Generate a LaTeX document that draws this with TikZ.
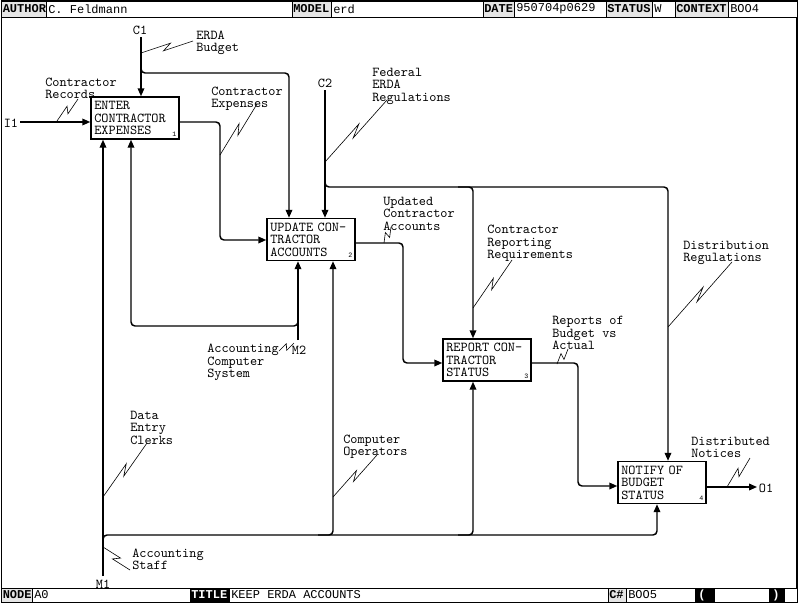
\documentclass[tikz,border=0pt]{standalone}
\usepackage{fontspec}
\setmainfont{Liberation Mono}
\usetikzlibrary{arrows.meta,calc}
\newcommand{\dfont}{\ttfamily\fontsize{10.2}{9.3}\selectfont}
\newcommand{\hfont}{\fontsize{9}{8.4}\selectfont}
\newcommand{\nfont}{\fontsize{5}{5}\selectfont}
\newcommand{\sqg}[2]{\draw[squig] (#1) -- ($(#1)!0.58!(#2)!2.2pt!90:(#2)$) -- ($(#1)!0.42!(#2)!2.2pt!-90:(#2)$) -- (#2);}
\begin{document}
\begin{tikzpicture}[x=0.75pt,y=-0.75pt,
  flow/.style={line width=1.1pt, rounded corners=3pt},
  arr/.style={flow, -{Triangle[length=6pt,width=5pt]}},
  squig/.style={line width=0.45pt},
  box/.style={draw, line width=1.1pt, minimum width=66pt, minimum height=31.5pt, text width=61pt, inner xsep=2.5pt, inner ysep=0pt, align=left, font=\dfont},
  lbl/.style={anchor=north west, inner sep=0pt, align=left, font=\dfont},
  tag/.style={inner sep=0pt, font=\dfont},
  num/.style={anchor=south east, inner sep=0pt, font=\nfont},
  hlab/.style={draw, line width=0.5pt, fill=gray!20},
  hval/.style={draw, line width=0.5pt, fill=white},
  hinv/.style={draw, line width=0.5pt, fill=black},
  htxt/.style={anchor=west, inner sep=0pt, font=\hfont},
  hbtxt/.style={anchor=west, inner sep=0pt, font=\hfont\bfseries}]
\useasboundingbox (0,0) rectangle (800,603);
% frame
\draw[line width=0.8pt] (1.5,1) rectangle (797,602);
% header
\draw[hlab] (1.5,1) rectangle (46,17);   \node[hbtxt] (hauthor) at (2.5,9) {AUTHOR};
\draw[hval] (46,1) rectangle (292,17);   \node[htxt] (vauthor) at (48,9) {C. Feldmann};
\draw[hlab] (292,1) rectangle (331,17);  \node[hbtxt] (hmodel) at (293,9) {MODEL};
\draw[hval] (331,1) rectangle (483,17);  \node[htxt] (vmodel) at (333,9) {erd};
\draw[hlab] (483,1) rectangle (514,17);  \node[hbtxt] (hdate) at (484,9) {DATE};
\draw[hval] (514,1) rectangle (606,17);  \node[htxt] (vdate) at (516,9) {950704p0629};
\draw[hlab] (606,1) rectangle (652,17);  \node[hbtxt] (hstatus) at (607,9) {STATUS};
\draw[hval] (652,1) rectangle (675,17);  \node[htxt] (vstatus) at (654,9) {W};
\draw[hlab] (675,1) rectangle (728,17);  \node[hbtxt] (hcontext) at (676,9) {CONTEXT};
\draw[hval] (728,1) rectangle (797,17);  \node[htxt] (vcontext) at (730,9) {BOO4};
% footer
\draw[hlab] (1.5,588) rectangle (32,602); \node[hbtxt] (hnode) at (2.5,595) {NODE};
\draw[hval] (32,588) rectangle (190,602); \node[htxt] (vnode) at (34,595) {A0};
\draw[hinv] (190,588) rectangle (229,602); \node[hbtxt,text=white] (htitle) at (191,595) {TITLE};
\draw[hval] (229,588) rectangle (608,602); \node[htxt] (vtitle) at (231,595) {KEEP ERDA ACCOUNTS};
\draw[hlab] (608,588) rectangle (626,602); \node[hbtxt] (hcnum) at (609,595) {C\#};
\draw[hval] (626,588) rectangle (695,602); \node[htxt] (vcnum) at (628,595) {BOO5};
\draw[hinv] (695,588) rectangle (714,602); \node[hbtxt,text=white] (hlpar) at (698,595) {(};
\draw[hval] (714,588) rectangle (769,602);
\draw[hinv] (769,588) rectangle (784,602); \node[hbtxt,text=white] (hrpar) at (772,595) {)};
\draw[hval] (784,588) rectangle (797,602);
% boxes
\node[box] (b1) at (135,118) {ENTER\\CONTRACTOR\\EXPENSES};
\node[box] (b2) at (311,239.5) {UPDATE CON-\\TRACTOR\\ACCOUNTS};
\node[box] (b3) at (487,360) {REPORT CON-\\TRACTOR\\STATUS};
\node[box] (b4) at (662,482.5) {NOTIFY OF\\BUDGET\\STATUS};
\node[num] (n1) at ($(b1.south east)+(-3,-3)$) {1};
\node[num] (n2) at ($(b2.south east)+(-3,-3)$) {2};
\node[num] (n3) at ($(b3.south east)+(-3,-3)$) {3};
\node[num] (n4) at ($(b4.south east)+(-3,-3)$) {4};
% boundary tags
\node[tag] (tc1) at (140,30) {C1};
\node[tag] (tc2) at (325,83) {C2};
\node[tag] (ti1) at (11,123) {I1};
\node[tag] (to1) at (766,488) {O1};
\node[tag] (tm2) at (299,350) {M2};
\node[tag] (tm1) at (103,584) {M1};
% inputs / controls
\coordinate (i1) at (20,122);
\draw[arr] (i1) -- (i1 -| b1.west);
\coordinate (c1) at (141,37);
\draw[arr] (c1) -- (c1 |- b1.north);
\coordinate (c1j) at (141,62);
\coordinate (c1t) at (289,73);
\draw[arr] (c1j) -- (c1j |- c1t) -- (c1t) -- (c1t |- b2.north);
\coordinate (c2) at (325,90);
\draw[arr] (c2) -- (c2 |- b2.north);
\coordinate (c2j) at (325,175);
\coordinate (c2h) at (668,187);
\draw[arr] (c2j) -- (c2j |- c2h) -- (c2h) -- (c2h |- b4.north);
\coordinate (c2k) at (458,187);
\coordinate (c2b) at (473,187);
\draw[arr] (c2k) -- (c2b) -- (c2b |- b3.north);
% outputs
\coordinate (k1) at (220,122);
\coordinate (k2) at (220,240);
\draw[arr] ($(b1.east)+(0,4)$) -- (k1) -- (k2) -- (k2 -| b2.west);
\coordinate (k3) at (403,243);
\coordinate (k4) at (403,363);
\draw[arr] ($(b2.east)+(0,3.5)$) -- (k3) -- (k4) -- (k4 -| b3.west);
\coordinate (k5) at (578,363);
\coordinate (k6) at (578,486);
\draw[arr] ($(b3.east)+(0,3)$) -- (k5) -- (k6) -- (k6 -| b4.west);
\coordinate (o1) at (757,487);
\draw[arr] (o1 -| b4.east) -- (o1);
% mechanisms
\coordinate (m1) at (103,576);
\draw[arr] (m1) -- (m1 |- b1.south);
\coordinate (m1j) at (103,548);
\coordinate (bus4) at (657,535);
\draw[arr] (m1j) -- (m1j |- bus4) -- (bus4) -- (bus4 |- b4.south);
\coordinate (bus2a) at (318,535);
\coordinate (bus2) at (333,535);
\draw[arr] (bus2a) -- (bus2) -- (bus2 |- b2.south);
\coordinate (bus3a) at (458,535);
\coordinate (bus3) at (473,535);
\draw[arr] (bus3a) -- (bus3) -- (bus3 |- b3.south);
\coordinate (m2) at (298,340);
\draw[arr] (m2) -- (m2 |- b2.south);
\coordinate (m2j) at (298,312);
\coordinate (m2t) at (131,326);
\draw[arr] (m2j) -- (m2j |- m2t) -- (m2t) -- (m2t |- b1.south);
% labels
\node[lbl] (lbud) at (196,30.5) {ERDA\\Budget};
\node[lbl] (lrec) at (45,77.5) {Contractor\\Records};
\node[lbl] (lexp) at (211,86.5) {Contractor\\Expenses};
\node[lbl] (lfed) at (372,68) {Federal\\ERDA\\Regulations};
\node[lbl] (lupd) at (383,197) {Updated\\Contractor\\Accounts};
\node[lbl] (lreq) at (487,225) {Contractor\\Reporting\\Requirements};
\node[lbl] (lrep) at (552,316) {Reports of\\Budget vs\\Actual};
\node[lbl] (ldis) at (683,240.5) {Distribution\\Regulations};
\node[lbl] (lnot) at (691,436.5) {Distributed\\Notices};
\node[lbl] (lacs) at (207,344) {Accounting\\Computer\\System};
\node[lbl] (lclk) at (130,411) {Data\\Entry\\Clerks};
\node[lbl] (lops) at (343,434.5) {Computer\\Operators};
\node[lbl] (lstf) at (132,548.5) {Accounting\\Staff};
% squiggles
\coordinate (s1a) at (141,53);  \coordinate (s1b) at (193,41);  \sqg{s1a}{s1b}
\coordinate (s2a) at (57,121);  \coordinate (s2b) at (78,99);   \sqg{s2a}{s2b}
\coordinate (s3a) at (220,155); \coordinate (s3b) at (257,104); \sqg{s3a}{s3b}
\coordinate (s4a) at (325,162); \coordinate (s4b) at (387,100); \sqg{s4a}{s4b}
\coordinate (s5a) at (384,243); \coordinate (s5b) at (391,227); \sqg{s5a}{s5b}
\coordinate (s6a) at (473,308); \coordinate (s6b) at (512,260); \sqg{s6a}{s6b}
\coordinate (s7a) at (557,364); \coordinate (s7b) at (568,349); \sqg{s7a}{s7b}
\coordinate (s8a) at (668,327); \coordinate (s8b) at (732,262); \sqg{s8a}{s8b}
\coordinate (s9a) at (727,487); \coordinate (s9b) at (750,458); \sqg{s9a}{s9b}
\coordinate (s10a) at (294,343); \coordinate (s10b) at (279,351); \sqg{s10a}{s10b}
\coordinate (s11a) at (103,497); \coordinate (s11b) at (147,443); \sqg{s11a}{s11b}
\coordinate (s12a) at (333,497); \coordinate (s12b) at (377,455); \sqg{s12a}{s12b}
\coordinate (s13a) at (103,547); \coordinate (s13b) at (130,570); \sqg{s13a}{s13b}
\end{tikzpicture}
\end{document}
